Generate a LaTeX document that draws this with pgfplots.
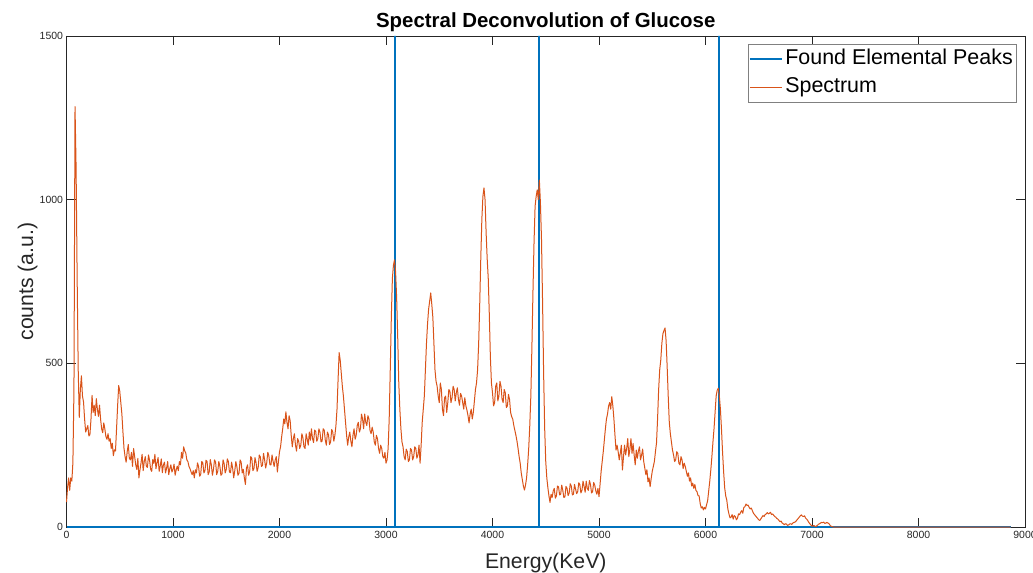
\documentclass[border=0pt]{standalone}
\usepackage{fontspec}
\setmainfont{Liberation Sans}
\usepackage{pgfplots}
\pgfplotsset{compat=1.18}
\definecolor{mblue}{rgb}{0,0.447,0.741}
\definecolor{morange}{rgb}{0.85,0.325,0.098}
\definecolor{axgray}{rgb}{0.15,0.15,0.15}
\definecolor{leggray}{rgb}{0.5,0.5,0.5}

\begin{document}
\begin{tikzpicture}
\useasboundingbox (0,0) rectangle (1033bp,573bp);
\begin{axis}[
  at={(66.5bp,46bp)}, anchor=south west,
  width=958.5bp, height=491bp, scale only axis,
  xmin=0, xmax=9000, ymin=0, ymax=1500,
  xtick={0,1000,...,9000}, ytick={0,500,1000,1500},
  scaled ticks=false,
  /pgf/number format/assume math mode=true,
  /pgf/number format/1000 sep={},
  ticklabel style={font=\fontsize{10.5}{12}\selectfont, color=axgray},
  xticklabel style={yshift=-1bp},
  axis line style={axgray, line width=0.6bp},
  tick style={axgray, line width=0.6bp},
  major tick length=9bp,
  clip=false,
  title={\bfseries Spectral Deconvolution of Glucose},
  title style={at={(axis description cs:0.5,1)}, anchor=base, yshift=3bp, font=\fontsize{20.5}{24}\selectfont},
  xlabel={Energy(KeV)},
  xlabel style={at={(axis description cs:0.5,0)}, anchor=base, yshift=-41bp, font=\fontsize{21.3}{25}\selectfont, color=axgray},
  ylabel={counts (a.u.)},
  ylabel style={at={(axis description cs:-0.0349,0.5)}, anchor=base, rotate=0, font=\fontsize{21.3}{25}\selectfont, color=axgray},
  legend style={at={(rel axis cs:0.9912,0.9837)}, anchor=north east,
    draw=leggray, line width=0.6bp,
    font=\fontsize{21.5}{25}\selectfont, inner sep=1bp, row sep=0bp,
    nodes={inner sep=2.5bp, text height=16.5bp, text depth=6.5bp},
    cells={anchor=west}},
  legend image code/.code={\draw[#1] (0bp,0bp) -- (32bp,0bp);},
]
\addplot[mblue, line width=2bp] coordinates {
 (0,0) (3087,0) (3087,1500) (3087,0) (4437,0) (4437,1500) (4437,0)
 (6127,0) (6127,1500) (6127,0) (8866,0)};
\addlegendentry{Found Elemental Peaks}
\addplot[morange, line width=1bp, line join=round] coordinates {
(0,76) (10,120) (20,150) (30,112) (40,150) (50,140) (60,196) (70,420) (80,1284) (90,1100)
(100,760) (110,480) (120,335) (130,420) (140,462) (150,400) (160,382) (170,330) (180,290) (190,300)
(200,310) (210,278) (220,282) (230,330) (240,402) (250,350) (260,372) (270,340) (280,392) (290,360)
(300,338) (310,372) (320,330) (330,300) (340,288) (350,318) (360,300) (370,276) (380,268) (390,285)
(400,262) (410,270) (420,240) (430,256) (440,218) (450,236) (460,232) (470,300) (480,370) (490,432)
(500,415) (510,380) (520,345) (530,290) (540,240) (550,215) (560,198) (570,230) (580,252) (590,210)
(600,205) (610,228) (620,185) (630,240) (640,215) (650,190) (660,176) (670,210) (680,150) (690,175)
(700,196) (710,222) (720,172) (730,200) (740,215) (750,185) (760,182) (770,220) (780,204) (790,176)
(800,170) (810,206) (820,194) (830,222) (840,178) (850,196) (860,212) (870,170) (880,186) (890,208)
(900,166) (910,190) (920,198) (930,165) (940,180) (950,200) (960,160) (970,178) (980,190) (990,168)
(1000,176) (1010,192) (1020,158) (1030,175) (1040,186) (1050,172) (1060,200) (1070,190) (1080,228) (1090,210)
(1100,245) (1110,232) (1120,226) (1130,205) (1140,200) (1150,185) (1160,178) (1170,168) (1180,160) (1190,172)
(1200,150) (1210,175) (1220,165) (1230,196) (1240,185) (1250,155) (1260,160) (1270,200) (1280,196) (1290,165)
(1300,172) (1310,204) (1320,200) (1330,160) (1340,168) (1350,206) (1360,190) (1370,158) (1380,176) (1390,205)
(1400,198) (1410,160) (1420,170) (1430,200) (1440,186) (1450,158) (1460,162) (1470,205) (1480,194) (1490,165)
(1500,176) (1510,208) (1520,200) (1530,168) (1540,166) (1550,198) (1560,180) (1570,150) (1580,172) (1590,200)
(1600,184) (1610,158) (1620,164) (1630,205) (1640,198) (1650,165) (1660,176) (1670,150) (1680,130) (1690,180)
(1700,190) (1710,158) (1720,170) (1730,215) (1740,210) (1750,172) (1760,178) (1770,212) (1780,196) (1790,170)
(1800,182) (1810,220) (1820,214) (1830,185) (1840,188) (1850,225) (1860,206) (1870,180) (1880,196) (1890,228)
(1900,218) (1910,190) (1920,190) (1930,220) (1940,200) (1950,185) (1960,205) (1970,215) (1980,168) (1990,200)
(2000,230) (2010,245) (2020,275) (2030,300) (2040,330) (2050,315) (2060,352) (2070,320) (2080,300) (2090,340)
(2100,325) (2110,280) (2120,245) (2130,270) (2140,285) (2150,250) (2160,232) (2170,270) (2180,262) (2190,240)
(2200,250) (2210,285) (2220,272) (2230,245) (2240,240) (2250,285) (2260,268) (2270,250) (2280,290) (2290,265)
(2300,300) (2310,270) (2320,258) (2330,296) (2340,292) (2350,262) (2360,270) (2370,300) (2380,290) (2390,260)
(2400,262) (2410,300) (2420,296) (2430,265) (2440,250) (2450,290) (2460,282) (2470,252) (2480,260) (2490,298)
(2500,290) (2510,262) (2520,280) (2530,310) (2540,360) (2550,450) (2560,533) (2570,510) (2580,470) (2590,430)
(2600,400) (2610,360) (2620,320) (2630,280) (2640,250) (2650,275) (2660,290) (2670,262) (2680,245) (2690,280)
(2700,300) (2710,268) (2720,280) (2730,310) (2740,320) (2750,290) (2760,300) (2770,345) (2780,330) (2790,300)
(2800,345) (2810,320) (2820,310) (2830,340) (2840,330) (2850,295) (2860,285) (2870,305) (2880,290) (2890,260)
(2900,250) (2910,280) (2920,270) (2930,240) (2940,225) (2950,250) (2960,240) (2970,215) (2980,210) (2990,228)
(3000,195) (3010,205) (3020,240) (3030,330) (3040,480) (3050,640) (3060,760) (3070,800) (3080,816) (3090,780)
(3100,700) (3110,580) (3120,440) (3130,360) (3140,300) (3150,260) (3160,245) (3170,215) (3180,205) (3190,238)
(3200,230) (3210,200) (3220,205) (3230,240) (3240,235) (3250,205) (3260,215) (3270,245) (3280,240) (3290,210)
(3300,220) (3310,250) (3320,195) (3330,250) (3340,320) (3350,360) (3360,400) (3370,480) (3380,560) (3390,620)
(3400,665) (3410,690) (3420,715) (3430,680) (3440,640) (3450,560) (3460,480) (3470,445) (3480,430) (3490,400)
(3500,380) (3510,440) (3520,420) (3530,360) (3540,340) (3550,395) (3560,400) (3570,350) (3580,380) (3590,420)
(3600,415) (3610,380) (3620,395) (3630,430) (3640,420) (3650,385) (3660,410) (3670,425) (3680,390) (3690,372)
(3700,408) (3710,400) (3720,380) (3730,360) (3740,395) (3750,370) (3760,357) (3770,340) (3780,318) (3790,345)
(3800,360) (3810,330) (3820,350) (3830,385) (3840,420) (3850,440) (3860,480) (3870,560) (3880,680) (3890,820)
(3900,940) (3910,1010) (3920,1036) (3930,1000) (3940,900) (3950,820) (3960,760) (3970,650) (3980,520) (3990,440)
(4000,410) (4010,370) (4020,380) (4030,430) (4040,440) (4050,385) (4060,400) (4070,445) (4080,430) (4090,390)
(4100,380) (4110,420) (4120,410) (4130,365) (4140,370) (4150,405) (4160,390) (4170,350) (4180,337) (4190,330)
(4200,310) (4210,295) (4220,280) (4230,262) (4240,240) (4250,215) (4260,195) (4270,165) (4280,145) (4290,125)
(4300,113) (4310,128) (4320,150) (4330,190) (4340,240) (4350,310) (4360,400) (4370,550) (4380,720) (4390,870)
(4400,980) (4410,1010) (4420,1030) (4430,1000) (4440,1060) (4450,990) (4460,880) (4470,690) (4480,470) (4490,300)
(4500,200) (4510,150) (4520,120) (4530,95) (4540,75) (4550,100) (4560,90) (4570,110) (4580,118) (4590,88)
(4600,95) (4610,125) (4620,123) (4630,98) (4640,100) (4650,128) (4660,112) (4670,90) (4680,92) (4690,124)
(4700,118) (4710,96) (4720,104) (4730,132) (4740,125) (4750,98) (4760,100) (4770,130) (4780,116) (4790,102)
(4800,108) (4810,135) (4820,130) (4830,104) (4840,112) (4850,140) (4860,124) (4870,106) (4880,140) (4890,118)
(4900,112) (4910,142) (4920,130) (4930,104) (4940,108) (4950,136) (4960,128) (4970,110) (4980,100) (4990,118)
(5000,93) (5010,130) (5020,170) (5030,200) (5040,230) (5050,265) (5060,300) (5070,330) (5080,345) (5090,370)
(5100,380) (5110,360) (5120,398) (5130,370) (5140,330) (5150,280) (5160,235) (5170,250) (5180,230) (5190,205)
(5200,226) (5210,250) (5220,174) (5230,215) (5240,250) (5250,220) (5260,240) (5270,270) (5280,215) (5290,238)
(5300,270) (5310,225) (5320,255) (5330,220) (5340,190) (5350,235) (5360,210) (5370,232) (5380,245) (5390,205)
(5400,220) (5410,238) (5420,200) (5430,180) (5440,160) (5450,175) (5460,138) (5470,150) (5480,123) (5490,148)
(5500,170) (5510,185) (5520,200) (5530,230) (5540,257) (5550,330) (5560,420) (5570,480) (5580,510) (5590,560)
(5600,590) (5610,600) (5620,608) (5630,570) (5640,490) (5650,400) (5660,320) (5670,285) (5680,260) (5690,235)
(5700,220) (5710,200) (5720,205) (5730,230) (5740,225) (5750,195) (5760,190) (5770,215) (5780,205) (5790,178)
(5800,195) (5810,185) (5820,170) (5830,155) (5840,165) (5850,140) (5860,150) (5870,125) (5880,134) (5890,118)
(5900,130) (5910,112) (5920,108) (5930,96) (5940,95) (5950,72) (5960,58) (5970,62) (5980,52) (5990,60)
(6000,55) (6010,68) (6020,80) (6030,110) (6040,140) (6050,175) (6060,215) (6070,260) (6080,300) (6090,350)
(6100,400) (6110,418) (6120,424) (6130,400) (6140,360) (6150,300) (6160,230) (6170,170) (6180,120) (6190,95)
(6200,82) (6210,55) (6220,40) (6230,28) (6240,30) (6250,38) (6260,24) (6270,35) (6280,32) (6290,22)
(6300,27) (6310,40) (6320,38) (6330,45) (6340,50) (6350,42) (6360,60) (6370,62) (6380,70) (6390,66)
(6400,67) (6410,60) (6420,55) (6430,58) (6440,50) (6450,42) (6460,38) (6470,34) (6480,30) (6490,26)
(6500,22) (6510,20) (6520,25) (6530,30) (6540,35) (6550,32) (6560,38) (6570,40) (6580,44) (6590,40)
(6600,42) (6610,45) (6620,38) (6630,40) (6640,36) (6650,32) (6660,30) (6670,26) (6680,24) (6690,20)
(6700,16) (6710,18) (6720,12) (6730,10) (6740,7) (6750,10) (6760,9) (6770,5) (6780,6) (6790,9)
(6800,10) (6810,8) (6820,12) (6830,14) (6840,15) (6850,18) (6860,22) (6870,26) (6880,30) (6890,34)
(6900,37) (6910,33) (6920,32) (6930,34) (6940,27) (6950,24) (6960,20) (6970,14) (6980,10) (6990,6)
(7000,2) (7010,4) (7020,4) (7030,2) (7040,2) (7050,5) (7060,8) (7070,10) (7080,12) (7090,14)
(7100,13) (7110,15) (7120,11) (7130,12) (7140,14) (7150,12) (7160,10) (7170,5) (7180,2) (7190,1)
(7200,0) (8866,0)};
\addlegendentry{Spectrum}
\end{axis}
\end{tikzpicture}
\end{document}
